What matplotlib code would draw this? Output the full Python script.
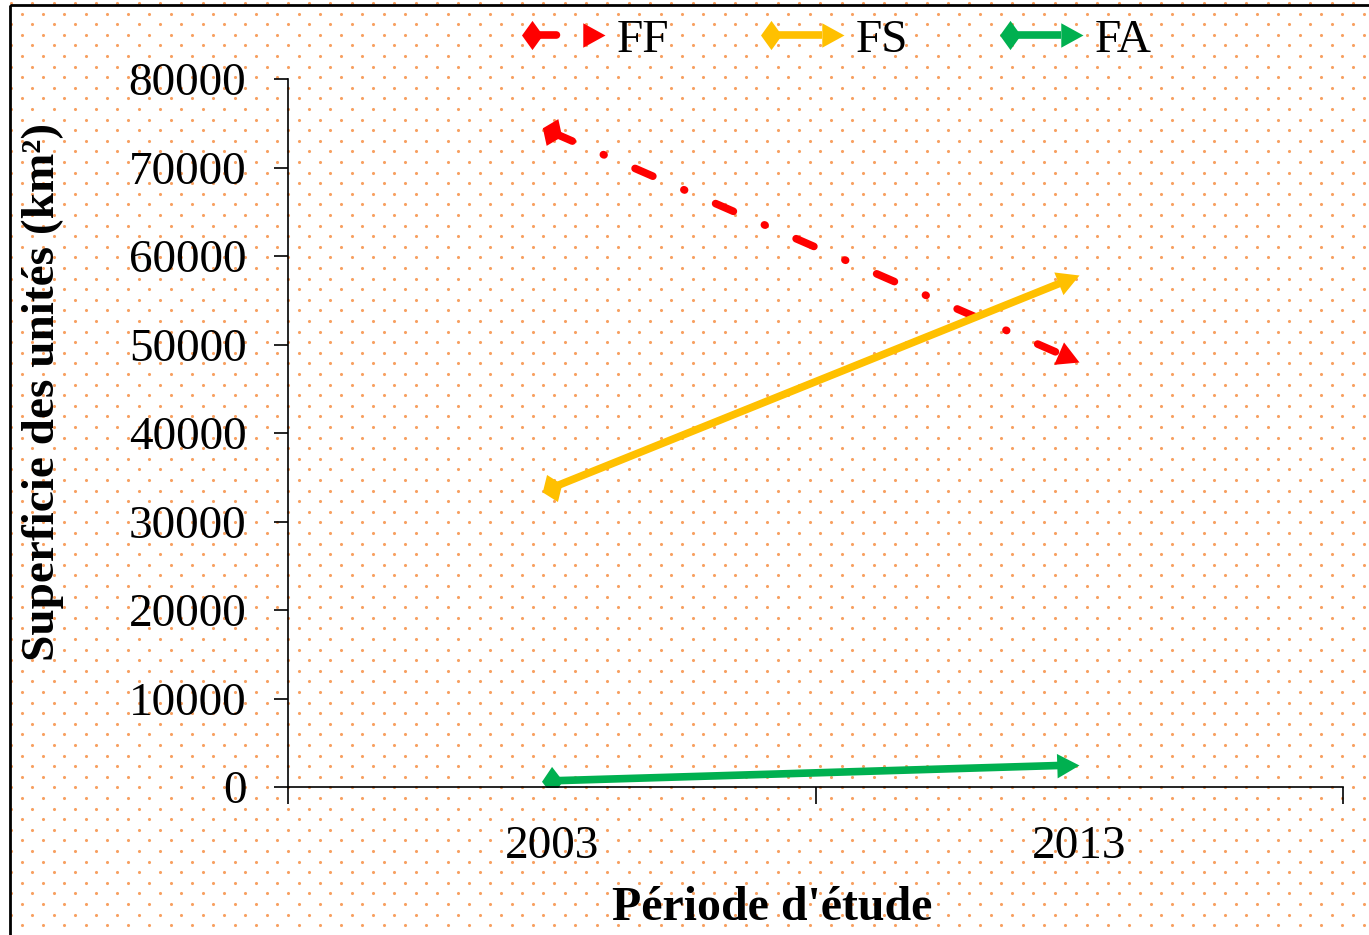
import numpy as np
import matplotlib
matplotlib.use('Agg')
import matplotlib.pyplot as plt
from matplotlib.lines import Line2D
from matplotlib.legend_handler import HandlerBase
from matplotlib.markers import MarkerStyle
from matplotlib.path import Path
from matplotlib.transforms import Affine2D
from matplotlib.patches import Rectangle

plt.rcParams['font.family'] = ['Liberation Serif', 'DejaVu Serif']

# data
years = ['2003', '2013']
ff = [74000, 48000]
fs = [33800, 57800]
fa = [700, 2500]

series = [('FF', ff, '#FF0000', (11.1, (2.54, 4.43, 0.1, 4.43))),
          ('FS', fs, '#FFC000', '-'),
          ('FA', fa, '#00B050', '-')]

W, H = 1369, 935
fig = plt.figure(figsize=(W / 100, H / 100), dpi=100)

# dotted background pattern
bg = fig.add_axes([0, 0, 1, 1], zorder=-10)
bg.set_xlim(0, W)
bg.set_ylim(H, 0)
bg.axis('off')
gx, gy = 21.3, 10.6
pts = []
for j, yy in enumerate(np.arange(3, H, gy)):
    off = 0 if j % 2 == 0 else gx / 2
    for xx in np.arange(11 + off, W, gx):
        pts.append((xx, yy))
pts = np.array(pts)
bg.scatter(pts[:, 0], pts[:, 1], s=5, color='#F7A061', linewidths=0)
bg.add_patch(Rectangle((10, 5), W, H, fill=False, lw=2, edgecolor='black'))

ax = fig.add_axes([288 / W, 1 - 787 / H, (1343 - 288) / W, (787 - 79) / H])
ax.patch.set_alpha(0)
ax.set_xlim(0.5, 2.5)
ax.set_ylim(0, 80000)
ax.spines['top'].set_visible(False)
ax.spines['right'].set_visible(False)
ax.spines['left'].set_linewidth(1.2)
ax.spines['bottom'].set_linewidth(1.2)
ax.set_yticks(np.arange(0, 80001, 10000))
ax.tick_params(axis='y', direction='out', length=10, width=1.2, labelsize=34, pad=20)
ax.set_xticks([0.5, 1.5, 2.5])
ax.set_xticklabels([])
ax.tick_params(axis='x', direction='out', length=12, width=1.2)
x = np.arange(1, len(years) + 1)
for xi, lab in zip(x, years):
    ax.text(xi, -4300, lab, ha='center', va='top', fontsize=34)

fig.text(772 / W, 1 - 908 / H, "Période d'étude", ha='center', va='center',
         fontsize=34.5, fontweight='bold')
fig.text(43 / W, 1 - 392 / H, 'Superficie des unités (km²)', ha='center', va='center',
         rotation=90, fontsize=34, fontweight='bold')

tip = Path([(0, 0), (-1, 0.55), (-1, -0.55), (0, 0)])
diam = Path([(-0.72, 0), (0, 1), (0.72, 0), (0, -1), (-0.72, 0)])
lines = []
for name, vals, col, ls in series:
    p0 = ax.transData.transform((x[0], vals[0]))
    p1 = ax.transData.transform((x[1], vals[1]))
    d = p1 - p0
    ang = np.degrees(np.arctan2(d[1], d[0]))
    u = d / np.hypot(*d)
    end = ax.transData.inverted().transform(p1 - u * 18)
    ln, = ax.plot([x[0], end[0]], [vals[0], end[1]], color=col, lw=5.5, ls=ls,
                  dash_capstyle='round', solid_capstyle='butt', label=name)
    lines.append(ln)
    ax.plot([x[0]], [vals[0]], marker=MarkerStyle(diam, transform=Affine2D().rotate_deg(ang)),
            ms=21, color=col, mew=0)
    ax.plot([x[1]], [vals[1]], marker=MarkerStyle(tip, transform=Affine2D().rotate_deg(ang)),
            ms=32, color=col, mew=0)


class ArrowHandler(HandlerBase):
    def create_artists(self, legend, orig, xdescent, ydescent, width, height, fontsize, trans):
        y = height / 2 - ydescent
        col = orig.get_color()
        l = Line2D([0, width - 16], [y, y], color=col, lw=5.5,
                   solid_capstyle='butt', dash_capstyle='round', transform=trans)
        if orig.get_linestyle() != '-':
            l.set_dashes((3.2, 4.5))
        a = Line2D([0], [y], marker=diam, ms=21, color=col, mew=0, transform=trans)
        b = Line2D([width], [y], marker=tip, ms=32, color=col, mew=0, transform=trans)
        return [l, a, b]


fig.legend(lines, [s[0] for s in series], handler_map={Line2D: ArrowHandler()},
           loc='center', bbox_to_anchor=(842 / W, 1 - 40 / H), ncol=3, frameon=False,
           fontsize=34, handlelength=1.55, handletextpad=0.25, columnspacing=2.15)

fig.savefig('out.png', dpi=100)
